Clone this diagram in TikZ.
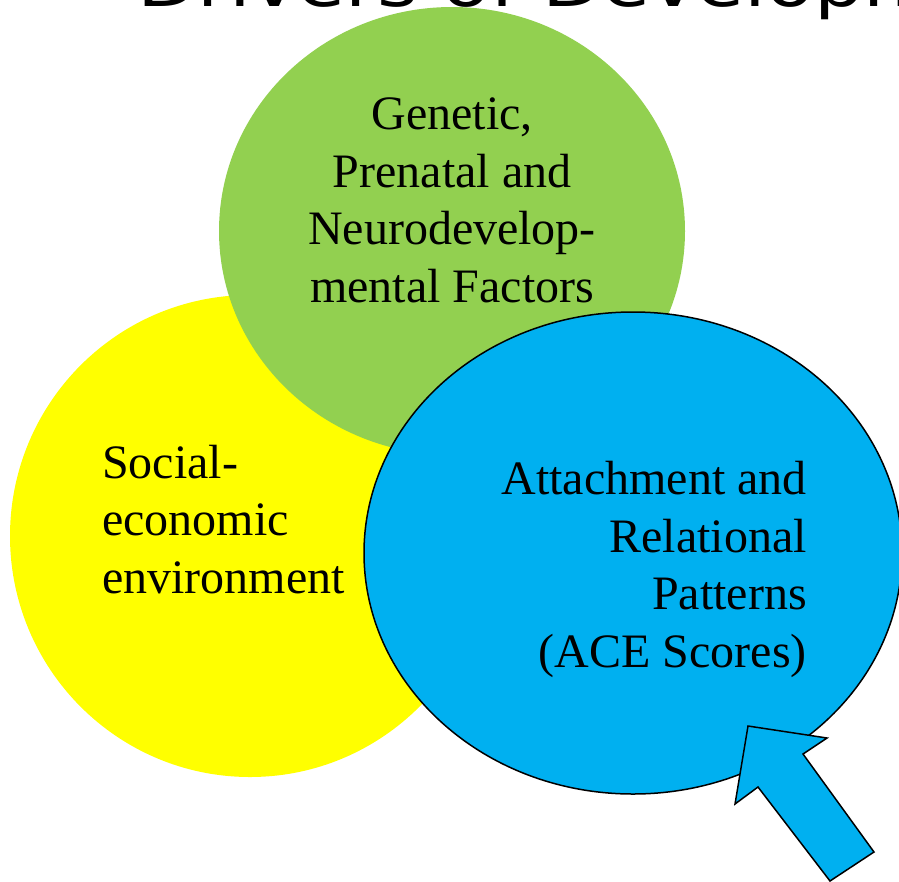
\documentclass[tikz,border=0pt]{standalone}
\usepackage{fontspec}
\usepackage{graphicx}
\setmainfont{Liberation Serif}
\newfontfamily\titlefont{DejaVu Sans}
\usetikzlibrary{shapes.geometric}
\definecolor{cgreen}{HTML}{92D050}
\definecolor{cyellow}{HTML}{FFFF00}
\definecolor{cblue}{HTML}{00B0F0}
\begin{document}
\begin{tikzpicture}[x=1pt,y=-1pt,
  blob/.style={ellipse, inner sep=0pt, outer sep=0pt},
  txt/.style={inner sep=0pt, font=\fontsize{48}{57.5}\selectfont},
  outl/.style={draw=black, line width=1.5pt}]
\useasboundingbox (0,0) rectangle (899,881);
\node[blob, fill=cyellow, minimum width=480pt, minimum height=482pt] (yellow) at (250,536) {};
\node[blob, fill=cgreen, minimum width=466pt, minimum height=448pt] (green) at (452,231) {};
\node[blob, fill=cblue, outl, minimum width=538pt, minimum height=482pt] (blue) at (633,553) {};
\node[anchor=base west, inner sep=0pt] (title) at (137,6) {\scalebox{1}[0.82]{\titlefont\fontsize{78}{80}\selectfont Drivers of Developm}};
\node[txt, align=center, anchor=base] (gtext) at (452,302) {Genetic,\\Prenatal and\\Neurodevelop-\\mental Factors};
\node[txt, align=left, anchor=base west] (ytext) at (102,593) {Social-\\economic\\environment};
\node[txt, align=right, anchor=base east] (btext) at (807,667) {Attachment and\\Relational\\Patterns\\(ACE Scores)};
\coordinate (tip) at (748,726);
\coordinate (rw) at (827,738);
\coordinate (rn) at (803,754);
\coordinate (re) at (874,852);
\coordinate (le) at (830,881);
\coordinate (ln) at (758,787);
\coordinate (lw) at (735,804);
\draw[outl, fill=cblue, line join=miter] (tip) -- (rw) -- (rn) -- (re) -- (le) -- (ln) -- (lw) -- cycle;
\end{tikzpicture}
\end{document}
